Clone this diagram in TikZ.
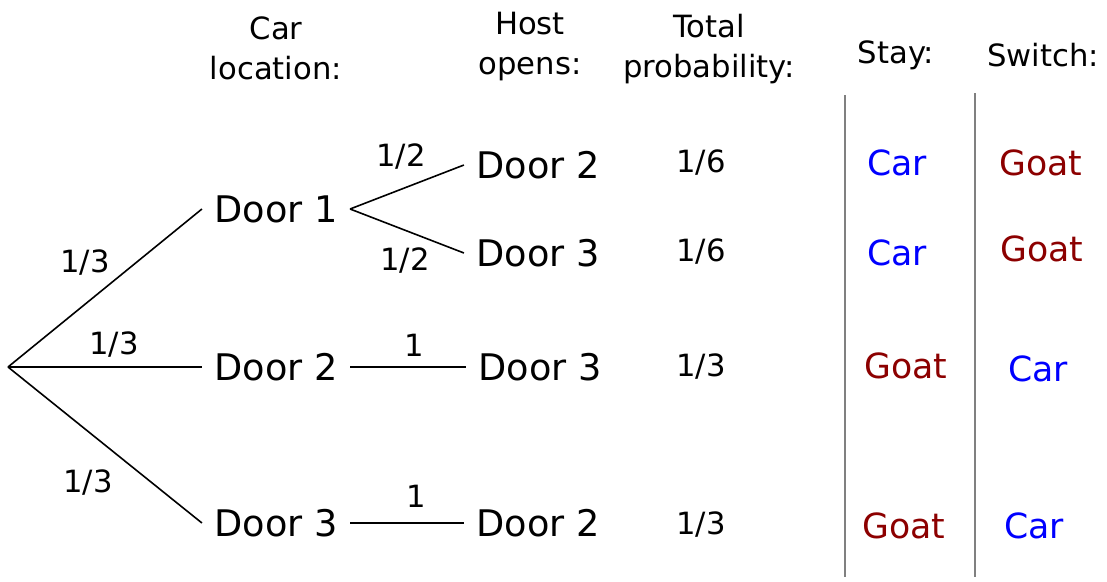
\documentclass[tikz,border=0pt]{standalone}
\usepackage{fontspec}
\setmainfont{DejaVu Sans}

\definecolor{carblue}{RGB}{0,0,255}
\definecolor{goatred}{RGB}{140,0,0}

\tikzset{every picture/.style={line width=0.75pt}}
\tikzset{
  door/.style={inner xsep=9pt, inner ysep=0.75pt, font=\fontsize{27.5}{33}\selectfont},
  prob/.style={inner sep=0.75pt, font=\fontsize{23}{28}\selectfont},
  head/.style={inner sep=0.75pt, align=center, font=\fontsize{23}{30}\selectfont},
  carlbl/.style={inner sep=0.75pt, text=carblue, font=\fontsize{26}{31}\selectfont},
  goatlbl/.style={carlbl, text=goatred},
  branch/.style={line width=1.2pt},
  colrule/.style={color=gray, line width=1pt}
}

\begin{document}
\begin{tikzpicture}[x=0.75pt,y=0.75pt,yscale=-1,xscale=1]
\useasboundingbox (0,0) rectangle (1107,582);

% Headers
\node [head] (hcar) at (276,48) {Car\\location:};
\node [head] (hhost) at (530,47) {Host\\opens:};
\node [head] (htot) at (709,49) {Total\\probability:};
\node [head] (hstay) at (896,55) {Stay:};
\node [head] (hswitch) at (1043,55) {Switch:};

% Car location
\coordinate (root) at (8,367);
\node [door] (d1) at (276,209) {Door 1};
\node [door] (d2) at (276,367) {Door 2};
\node [door] (d3) at (276,523) {Door 3};

% Host opens
\node [door] (h12) at (538,165) {Door 2};
\node [door] (h13) at (538,253) {Door 3};
\node [door] (h23) at (540,367) {Door 3};
\node [door] (h32) at (538,523) {Door 2};

%Straight Lines
\draw [branch] (root) -- (d1.west);
\draw [branch] (root) -- (d2.west);
\draw [branch] (root) -- (d3.west);
\draw [branch] (d1.east) -- (h12.west);
\draw [branch] (d1.east) -- (h13.west);
\draw [branch] (d2.east) -- (h23.west);
\draw [branch] (d3.east) -- (h32.west);

% Branch probabilities
\node [prob] (p1) at (85,263) {1/3};
\node [prob] (p2) at (114,345) {1/3};
\node [prob] (p3) at (88,483) {1/3};
\node [prob] (p12) at (401,157) {1/2};
\node [prob] (p13) at (405,261) {1/2};
\node [prob] (p23) at (414,345) {1};
\node [prob] (p32) at (416,496) {1};

% Total probability
\node [prob] (t1) at (701,163) {1/6};
\node [prob] (t2) at (701,252) {1/6};
\node [prob] (t3) at (701,367) {1/3};
\node [prob] (t4) at (701,525) {1/3};

% Column rules
\draw [colrule] (845,95) -- (845,577);
\draw [colrule] (975,93) -- (975,577);

% Stay
\node [carlbl] (s1) at (897,163) {Car};
\node [carlbl] (s2) at (897,253) {Car};
\node [goatlbl] (s3) at (906,366) {Goat};
\node [goatlbl] (s4) at (904,526) {Goat};

% Switch
\node [goatlbl] (w1) at (1041,163) {Goat};
\node [goatlbl] (w2) at (1042,249) {Goat};
\node [carlbl] (w3) at (1038,369) {Car};
\node [carlbl] (w4) at (1034,526) {Car};

\end{tikzpicture}
\end{document}
